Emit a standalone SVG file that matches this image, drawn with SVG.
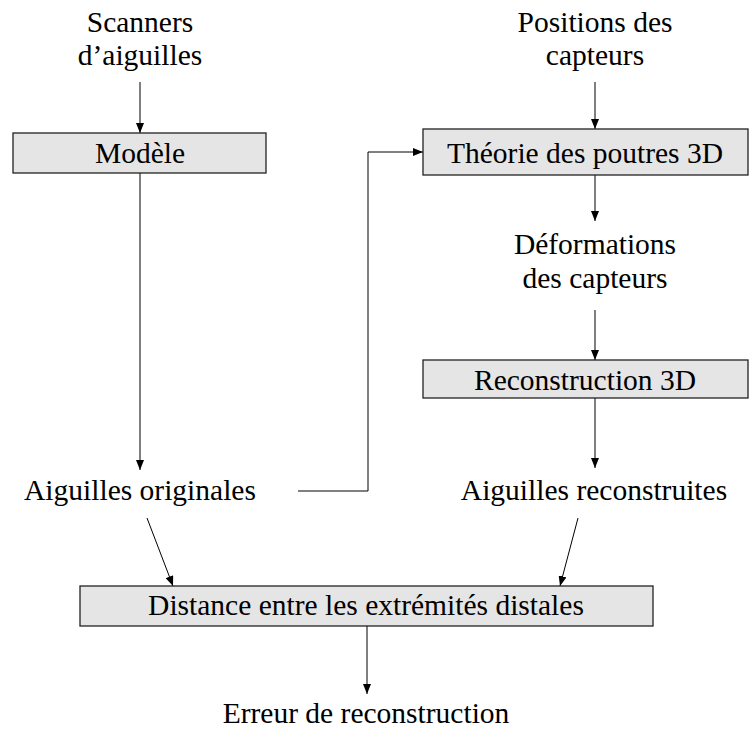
<svg xmlns="http://www.w3.org/2000/svg" width="752" height="738" viewBox="0 0 752 738">
<style>
text{font-family:'Liberation Serif','Times New Roman',serif;font-size:29.5px;fill:#000;text-anchor:middle}
.box{fill:#e5e5e5;stroke:#222;stroke-width:1.3}
.c{fill:none;stroke:#000;stroke-width:1}
</style>
<defs>
<marker id="ah" viewBox="0 0 10 8" refX="10" refY="4" markerWidth="10" markerHeight="8" markerUnits="userSpaceOnUse" orient="auto">
<path d="M0,0 L10,4 L0,8 Z" fill="#000"/>
</marker>
</defs>
<rect width="752" height="738" fill="#fff"/>
<g id="connectors">
<path class="c" d="M140,82 V133" marker-end="url(#ah)"/>
<path class="c" d="M595,82 V129" marker-end="url(#ah)"/>
<path class="c" d="M140,173 V470" marker-end="url(#ah)"/>
<path class="c" d="M298,491 H368 V152 H423" marker-end="url(#ah)"/>
<path class="c" d="M595,175 V221" marker-end="url(#ah)"/>
<path class="c" d="M595,310 V360" marker-end="url(#ah)"/>
<path class="c" d="M595,398 V468" marker-end="url(#ah)"/>
<path class="c" d="M147,518 L173,586" marker-end="url(#ah)"/>
<path class="c" d="M578,518 L560,586" marker-end="url(#ah)"/>
<path class="c" d="M367,626 V694" marker-end="url(#ah)"/>
</g>
<g id="scanners"><text x="140" y="32">Scanners</text><text x="140" y="65">d’aiguilles</text></g>
<g id="positions"><text x="595" y="32">Positions des</text><text x="595" y="65">capteurs</text></g>
<g id="modele"><rect class="box" x="13" y="133" width="253" height="40"/><text x="140" y="163">Modèle</text></g>
<g id="theorie"><rect class="box" x="423" y="129" width="325" height="46"/><text x="585" y="163">Théorie des poutres 3D</text></g>
<g id="deformations"><text x="595" y="254">Déformations</text><text x="595" y="288">des capteurs</text></g>
<g id="reconstruction"><rect class="box" x="423" y="360" width="325" height="38"/><text x="585" y="390">Reconstruction 3D</text></g>
<g id="originales"><text x="140" y="500">Aiguilles originales</text></g>
<g id="reconstruites"><text x="594" y="500">Aiguilles reconstruites</text></g>
<g id="distance"><rect class="box" x="80" y="586" width="573" height="40"/><text x="366" y="615">Distance entre les extrémités distales</text></g>
<g id="erreur"><text x="366" y="723">Erreur de reconstruction</text></g>
</svg>
